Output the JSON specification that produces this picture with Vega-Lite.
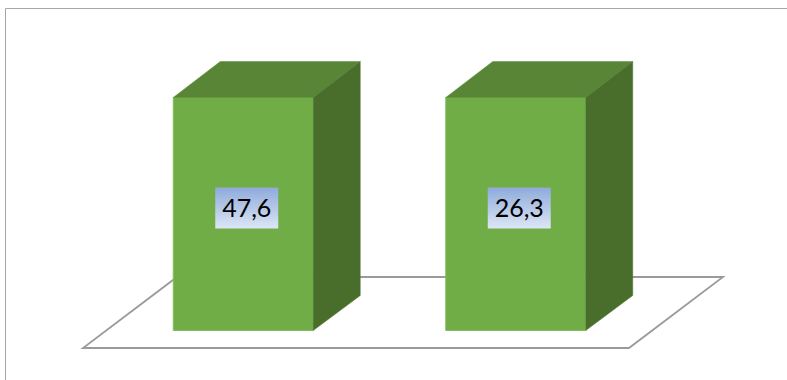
{
  "$schema": "https://vega.github.io/schema/vega-lite/v6.json",
  "width": 787,
  "height": 380,
  "autosize": {"type": "none"},
  "padding": 0,
  "background": "white",
  "config": {
    "view": {"stroke": null},
    "locale": {"number": {"decimal": ",", "thousands": ".", "grouping": [3], "currency": ["", " €"]}}
  },
  "data": {"values": [
    {"grupo": "Grupo 1", "valor": 47.6},
    {"grupo": "Grupo 2", "valor": 26.3}
  ]},
  "encoding": {
    "x": {"field": "grupo", "type": "nominal", "axis": null,
          "scale": {"type": "band", "range": [107, 652], "paddingInner": 0, "paddingOuter": 0}}
  },
  "layer": [
    {
      "transform": [{"filter": "datum.grupo == 'Grupo 1'"}],
      "mark": {"type": "point", "shape": "M-237.75,50V-322H544", "size": 4, "filled": false,
               "stroke": "#a6a6a6", "strokeWidth": 1, "opacity": 1},
      "encoding": {"y": {"datum": 0, "type": "quantitative",
                         "scale": {"domain": [0, 1], "range": [330.5, 97.5], "nice": false, "zero": false}, "axis": null}}
    },
    {
      "transform": [{"filter": "datum.grupo == 'Grupo 1'"}],
      "mark": {"type": "point", "shape": "M-160.25,17.5L385.75,17.5L479.75,-53.5L-66.25,-53.5Z", "size": 4, "filled": true,
               "fill": "white", "stroke": "#9a9a9a", "strokeWidth": 1.8, "opacity": 1},
      "encoding": {"y": {"datum": 0, "type": "quantitative", "axis": null}}
    },
    {
      "mark": {"type": "bar", "width": 140, "color": "#70ad47", "stroke": "#86bd60", "strokeWidth": 1},
      "encoding": {"y": {"field": "valor", "type": "quantitative", "stack": "normalize", "axis": null,
                         "scale": {"domain": [0, 1], "range": [330.5, 97.5], "nice": false, "zero": false}}}
    },
    {
      "mark": {"type": "point", "shape": "M-70,0L70,0L117,-36L-23,-36Z", "size": 4, "filled": true,
               "fill": "#588636", "stroke": "#5e8f3a", "strokeWidth": 0.5, "opacity": 1},
      "encoding": {"y": {"field": "valor", "type": "quantitative", "stack": "normalize", "axis": null}}
    },
    {
      "mark": {"type": "point", "shape": "M70,0L117,-36L117,198L70,233Z", "size": 4, "filled": true,
               "fill": "#496e2c", "stroke": "#4f7630", "strokeWidth": 0.5, "opacity": 1},
      "encoding": {"y": {"field": "valor", "type": "quantitative", "stack": "normalize", "axis": null}}
    },
    {
      "mark": {"type": "point", "shape": "M-31.5,-20.5H31.5V20.5H-31.5Z", "size": 4, "filled": true, "opacity": 1,
               "xOffset": 3.5, "yOffset": -6,
               "fill": {"gradient": "linear", "x1": 0, "y1": 0, "x2": 0, "y2": 1,
                        "stops": [{"offset": 0, "color": "#8eaadb"}, {"offset": 1, "color": "#dde6f5"}]}},
      "encoding": {"y": {"datum": 0.5, "type": "quantitative", "axis": null}}
    },
    {
      "mark": {"type": "text", "font": "Lato", "fontSize": 25, "color": "black", "align": "center", "baseline": "middle",
               "xOffset": 3.5, "yOffset": -5},
      "encoding": {
        "y": {"datum": 0.5, "type": "quantitative", "axis": null},
        "text": {"field": "valor", "type": "quantitative", "format": ".1f"}
      }
    }
  ]
}
